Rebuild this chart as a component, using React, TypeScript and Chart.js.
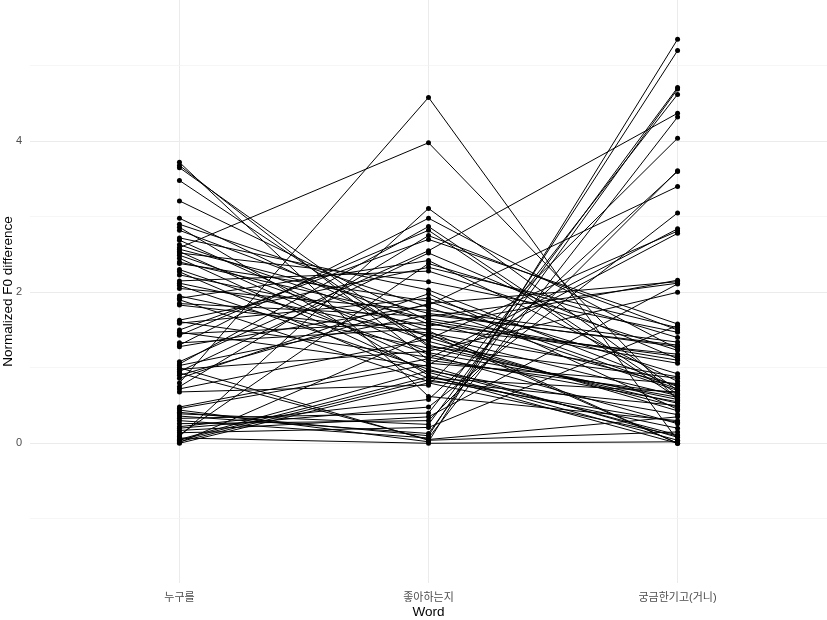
import React, { useEffect, useRef } from "react";
import { Chart, registerables } from "chart.js";
Chart.register(...registerables);

const words = ["누구를", "좋아하는지", "궁금한기고(거니)"];

// values per participant (same order in each array)
const nugureul = [
  3.72, 3.68, 3.65, 3.48, 3.21, 2.98, 2.90, 2.86, 2.82, 2.72,
  2.69, 2.63, 2.59, 2.57, 2.54, 2.52, 2.49, 2.45, 2.40, 2.38,
  2.30, 2.27, 2.23, 2.15, 2.12, 2.09, 2.05, 1.95, 1.92, 1.90,
  1.85, 1.83, 1.63, 1.61, 1.59, 1.50, 1.47, 1.45, 1.43, 1.33,
  1.30, 1.28, 1.08, 1.05, 1.03, 0.09, 0.98, 0.95, 0.11, 0.90,
  0.86, 0.80, 0.75, 0.72, 0.68, 0.48, 0.46, 0.44, 0.41, 0.39,
  0.36, 0.33, 0.30, 0.26, 0.22, 0.20, 0.17, 0.14, 0.93, 1.00,
  0.07, 0.05, 0.04, 0.02, 0.01, 0.00,
];
const joahaneunji = [
  0.62, 1.10, 1.30, 1.28, 1.62, 1.40, 1.80, 0.90, 1.58, 2.03,
  1.20, 1.49, 3.98, 1.72, 1.06, 2.14, 1.35, 0.94, 1.65, 1.88,
  1.18, 0.86, 1.55, 2.28, 1.43, 0.98, 1.76, 1.26, 2.42, 0.82,
  1.68, 1.46, 2.33, 1.14, 1.92, 2.70, 1.02, 1.60, 2.82, 1.52,
  2.98, 1.83, 2.55, 2.87, 1.70, 3.11, 1.22, 2.52, 2.38, 1.85,
  1.98, 4.58, 2.75, 1.38, 0.77, 1.12, 1.04, 0.02, 0.10, 0.25,
  0.13, 0.40, 0.07, 0.30, 0.58, 0.48, 0.35, 0.21, 0.05, 0.04,
  0.00, 0.96, 0.88, 0.84, 1.45, 0.80,
];
const gunggeum = [
  0.30, 0.66, 0.53, 0.86, 1.06, 0.43, 0.70, 0.00, 1.15, 0.75,
  0.61, 0.00, 0.57, 1.28, 0.79, 1.47, 0.48, 0.04, 1.10, 0.72,
  0.26, 0.68, 2.16, 1.23, 0.63, 0.11, 1.34, 0.58, 0.82, 0.50,
  2.12, 0.88, 1.53, 0.55, 0.92, 1.58, 0.08, 0.77, 0.60, 1.18,
  1.25, 3.40, 4.37, 0.65, 1.30, 0.70, 2.00, 1.12, 1.40, 2.14,
  0.45, 0.04, 1.50, 2.81, 4.04, 2.84, 2.78, 5.35, 5.20, 4.71,
  4.69, 4.62, 4.32, 3.61, 3.60, 3.05, 2.11, 1.56, 0.35, 0.15,
  0.02, 0.38, 0.20, 0.28, 0.00, 0.10,
];

const yTickValues = [-1, 0, 1, 2, 3, 4, 5];
const yMin = -1.85;
const yMax = 5.87;

export default function App() {
  const ref = useRef<HTMLCanvasElement>(null);
  useEffect(() => {
    document.body.style.margin = "0";
    const series = [nugureul, joahaneunji, gunggeum];
    const lineSets = nugureul.map((_, i) => ({
      type: "line" as const,
      data: series.map((s, j) => ({ x: j + 1, y: s[i] })),
      borderColor: "#000000",
      borderWidth: 1,
      pointRadius: 0,
      fill: false,
      tension: 0,
    }));
    const pointSet = {
      type: "scatter" as const,
      data: series.flatMap((s, j) => s.map((v) => ({ x: j + 1, y: v }))),
      backgroundColor: "#000000",
      borderColor: "#000000",
      borderWidth: 0,
      pointRadius: 2.5,
      showLine: false,
    };
    const tickFont = { family: "'Liberation Sans', Arial, 'Noto Sans CJK KR', sans-serif", size: 11 };
    const titleFont = { family: "'Liberation Sans', Arial, 'Noto Sans CJK KR', sans-serif", size: 13.5 };
    const chart = new Chart(ref.current as HTMLCanvasElement, {
      type: "line",
      data: { datasets: [pointSet as any, ...(lineSets as any[])] },
      options: {
        animation: false,
        responsive: false,
        maintainAspectRatio: false,
        layout: { padding: 0, autoPadding: false },
        plugins: { legend: { display: false }, tooltip: { enabled: false } },
        scales: {
          x: {
            type: "linear",
            min: 0.4,
            max: 3.6,
            afterBuildTicks: (s: any) => {
              s.ticks = words.map((_, i) => ({ value: i + 1 }));
            },
            afterFit: (s: any) => {
              s.height = 37;
              s.paddingLeft = 0;
              s.paddingRight = 0;
            },
            ticks: {
              callback: (v: any) => words[Number(v) - 1] ?? "",
              color: "#4d4d4d",
              font: tickFont,
              padding: 8,
              maxRotation: 0,
              autoSkip: false,
            },
            grid: { color: "#ebebeb", lineWidth: 1, drawTicks: false },
            border: { display: false },
            title: { display: true, text: "Word", color: "#000000", font: titleFont, padding: 0 },
          },
          y: {
            type: "linear",
            min: yMin,
            max: yMax,
            afterBuildTicks: (s: any) => {
              s.ticks = yTickValues.map((v) => ({ value: v }));
            },
            afterFit: (s: any) => {
              s.width = 30;
              s.paddingTop = 0;
              s.paddingBottom = 0;
            },
            ticks: {
              callback: (v: any) => (Number(v) % 2 === 0 ? String(v) : ""),
              color: "#4d4d4d",
              font: tickFont,
              padding: 8,
              autoSkip: false,
            },
            grid: {
              color: (ctx: any) => (ctx.tick && ctx.tick.value % 2 === 0 ? "#ebebeb" : "#f2f2f2"),
              lineWidth: (ctx: any) => (ctx.tick && ctx.tick.value % 2 === 0 ? 1 : 0.7),
              drawTicks: false,
            },
            border: { display: false },
            title: { display: true, text: "Normalized F0 difference", color: "#000000", font: titleFont, padding: 0 },
          },
        },
      },
    });
    return () => chart.destroy();
  }, []);
  return <canvas ref={ref} width={827} height={620} style={{ display: "block" }} />;
}
